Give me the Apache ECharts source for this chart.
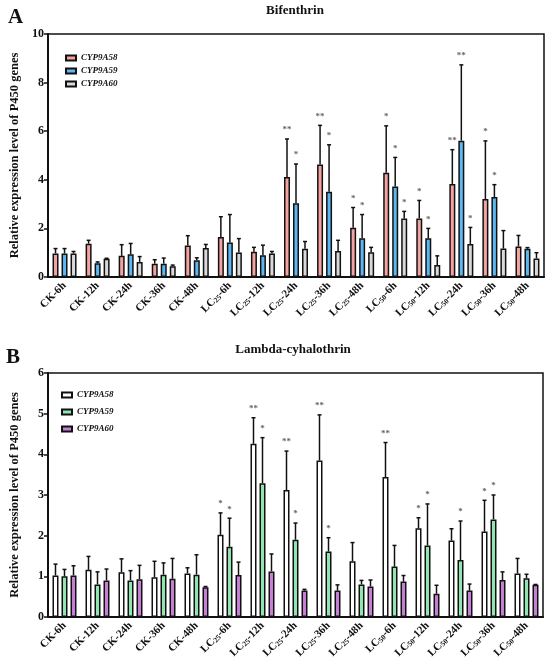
<!DOCTYPE html>
<html>
<head>
<meta charset="utf-8">
<script src="https://cdn.jsdelivr.net/npm/echarts@6/dist/echarts.min.js"></script>
<style>
  html, body { margin: 0; padding: 0; background: #fff; }
  #main { width: 550px; height: 664px; }
</style>
</head>
<body>
<div id="main"></div>
<script>
// 横轴分组
var categories = ['CK-6h','CK-12h','CK-24h','CK-36h','CK-48h',
  'LC{s|25}-6h','LC{s|25}-12h','LC{s|25}-24h','LC{s|25}-36h','LC{s|25}-48h',
  'LC{s|50}-6h','LC{s|50}-12h','LC{s|50}-24h','LC{s|50}-36h','LC{s|50}-48h'];
var geneNames = ['CYP9A58','CYP9A59','CYP9A60'];

// A: Bifenthrin 均值 / 标准差 / 显著性
var bifMean58 = [0.97,1.37,0.87,0.55,1.30,1.65,1.04,4.12,4.63,2.03,4.29,2.41,3.83,3.21,1.26];
var bifSd58   = [0.20,0.14,0.46,0.16,0.40,0.83,0.18,1.56,1.61,0.83,1.93,0.74,1.41,2.39,0.45];
var bifSig58  = ['','','','','','','','**','**','*','*','*','**','*',''];
var bifMean59 = [0.97,0.57,0.94,0.55,0.69,1.42,0.90,3.03,3.51,1.59,3.72,1.59,5.61,3.29,1.16];
var bifSd59   = [0.20,0.05,0.44,0.23,0.10,1.15,0.41,1.62,1.93,0.98,1.20,0.41,3.12,0.51,0.05];
var bifSig59  = ['','','','','','','','*','*','*','*','*','**','*',''];
var bifMean60 = [0.97,0.75,0.62,0.44,1.19,1.01,0.97,1.16,1.07,1.02,2.41,0.49,1.36,1.17,0.76];
var bifSd60   = [0.08,0.02,0.22,0.05,0.15,0.57,0.08,0.30,0.44,0.20,0.29,0.38,0.68,0.74,0.24];
var bifSig60  = ['','','','','','','','','','','*','','*','',''];

// B: Lambda-cyhalothrin
var lamMean58 = [1.02,1.16,1.10,0.98,1.07,2.02,4.26,3.12,3.85,1.37,3.44,2.18,1.88,2.10,1.07];
var lamSd58   = [0.28,0.33,0.33,0.39,0.14,0.54,0.64,0.96,1.12,0.46,0.85,0.26,0.29,0.77,0.37];
var lamSig58  = ['','','','','','*','**','**','**','','**','*','','*',''];
var lamMean59 = [1.00,0.80,0.90,1.04,1.04,1.73,3.29,1.90,1.61,0.80,1.24,1.76,1.40,2.40,0.95];
var lamSd59   = [0.17,0.31,0.24,0.29,0.49,0.70,1.12,0.41,0.34,0.10,0.52,1.02,0.96,0.60,0.10];
var lamSig59  = ['','','','','','*','*','*','*','','','*','*','*',''];
var lamMean60 = [1.02,0.90,0.93,0.94,0.73,1.03,1.12,0.65,0.65,0.75,0.87,0.57,0.65,0.91,0.79];
var lamSd60   = [0.24,0.28,0.34,0.50,0.02,0.32,0.43,0.03,0.14,0.16,0.15,0.21,0.16,0.20,0.01];
var lamSig60  = ['','','','','','','','','','','','','','',''];

var colorsA = ['#F5A3A1','#5DB7F3','#D9D9D9'];
var colorsB = ['#FFFFFF','#8FE6B1','#C77FD6'];

var FONT = 'Liberation Serif';
var BAR_W = 6, BAR_STEP = 9;

function barSeries(name, data, color, axisIdx){
  return {
    name: name, type: 'bar', xAxisIndex: axisIdx, yAxisIndex: axisIdx,
    data: data, barWidth: BAR_W, barGap: '50%',
    itemStyle: { color: color, borderColor: '#111', borderWidth: 1.5 }
  };
}

//误差线 + 星号
function errSeries(means, sds, sig, k, axisIdx){
  var d = means.map(function(m, i){ return [i, m, sds[i]]; });
  return {
    type: 'custom', xAxisIndex: axisIdx, yAxisIndex: axisIdx, z: 5, clip: false,
    data: d, encode: { x: 0, y: 1 }, silent: true,
    renderItem: function(params, api){
      var i = api.value(0), m = api.value(1), s = api.value(2);
      var off = (k - 1) * BAR_STEP;
      var p0 = api.coord([i, m]);
      var p1 = api.coord([i, m + s]);
      var x = p0[0] + off;
      var st = { stroke: '#111', lineWidth: 1.5 };
      var kids = [
        { type: 'line', shape: { x1: x, y1: p0[1], x2: x, y2: p1[1] }, style: st },
        { type: 'line', shape: { x1: x - 2, y1: p1[1], x2: x + 2, y2: p1[1] }, style: st }
      ];
      if (sig[i]) {
        kids.push({ type: 'text', style: { text: sig[i], x: x, y: p1[1] - 9,
          align: 'center', verticalAlign: 'middle', fill: '#666',
          font: 'bold 9px "' + FONT + '"' } });
      }
      return { type: 'group', children: kids };
    }
  };
}

function xAxisCfg(gridIdx){
  return {
    type: 'category', gridIndex: gridIdx, data: categories,
    axisLine: { lineStyle: { color: '#111', width: 2 } },
    axisTick: { alignWithLabel: true, length: 4, lineStyle: { color: '#111', width: 1.5 } },
    axisLabel: { rotate: 45, margin: 7, color: '#111', fontFamily: FONT, fontWeight: 'bold', fontSize: 11,
      rich: { s: { fontSize: 7.5, fontFamily: FONT, fontWeight: 'bold', color: '#111', verticalAlign: 'bottom', padding: [4,0,0,0] } } }
  };
}

function yAxisCfg(gridIdx, max, interval){
  return {
    type: 'value', gridIndex: gridIdx, min: 0, max: max, interval: interval,
    name: 'Relative expression level of P450 genes', nameLocation: 'middle', nameGap: 27,
    nameTextStyle: { fontFamily: FONT, fontWeight: 'bold', fontSize: 12.5, color: '#111' },
    splitLine: { show: false },
    axisLine: { show: true, lineStyle: { color: '#111', width: 2 } },
    axisTick: { show: true, length: 4, lineStyle: { color: '#111', width: 1.5 } },
    axisLabel: { margin: 4, color: '#111', fontFamily: FONT, fontWeight: 'bold', fontSize: 12 }
  };
}

function legendCfg(names, left, top, gap){
  return {
    data: names, orient: 'vertical', left: left, top: top, itemGap: gap,
    itemWidth: 10, itemHeight: 5, icon: 'rect',
    textStyle: { fontFamily: FONT, fontStyle: 'italic', fontWeight: 'bold', fontSize: 9, color: '#111', lineHeight: 10 }
  };
}

var chart = echarts.init(document.getElementById('main'));
var option = {
  animation: false,
  backgroundColor: '#fff',
  graphic: [
    { type: 'text', left: 8, top: 7, style: { text: 'A', font: 'bold 21px "' + FONT + '"', fill: '#111' } },
    { type: 'text', left: 6, top: 347, style: { text: 'B', font: 'bold 21px "' + FONT + '"', fill: '#111' } },
    { type: 'text', x: 295, y: 11, style: { text: 'Bifenthrin', align: 'center', verticalAlign: 'middle', font: 'bold 13px "' + FONT + '"', fill: '#111' } },
    { type: 'text', x: 293, y: 350, style: { text: 'Lambda-cyhalothrin', align: 'center', verticalAlign: 'middle', font: 'bold 13px "' + FONT + '"', fill: '#111' } }
  ],
  legend: [
    legendCfg(['CYP9A58','CYP9A59','CYP9A60'], 60, 48, 3),
    legendCfg(['CYP9A58 ','CYP9A59 ','CYP9A60 '], 56, 385, 7)
  ],
  grid: [
    { left: 46, right: 6, top: 34, height: 243, show: true, borderColor: '#111', borderWidth: 1.5 },
    { left: 44, right: 7, top: 373, height: 244, show: true, borderColor: '#111', borderWidth: 1.5 }
  ],
  xAxis: [xAxisCfg(0), xAxisCfg(1)],
  yAxis: [yAxisCfg(0, 10, 2), yAxisCfg(1, 6, 1)],
  series: [
    barSeries('CYP9A58', bifMean58, colorsA[0], 0),
    barSeries('CYP9A59', bifMean59, colorsA[1], 0),
    barSeries('CYP9A60', bifMean60, colorsA[2], 0),
    errSeries(bifMean58, bifSd58, bifSig58, 0, 0),
    errSeries(bifMean59, bifSd59, bifSig59, 1, 0),
    errSeries(bifMean60, bifSd60, bifSig60, 2, 0),
    barSeries('CYP9A58 ', lamMean58, colorsB[0], 1),
    barSeries('CYP9A59 ', lamMean59, colorsB[1], 1),
    barSeries('CYP9A60 ', lamMean60, colorsB[2], 1),
    errSeries(lamMean58, lamSd58, lamSig58, 0, 1),
    errSeries(lamMean59, lamSd59, lamSig59, 1, 1),
    errSeries(lamMean60, lamSd60, lamSig60, 2, 1)
  ]
};
chart.setOption(option);
</script>
</body>
</html>
